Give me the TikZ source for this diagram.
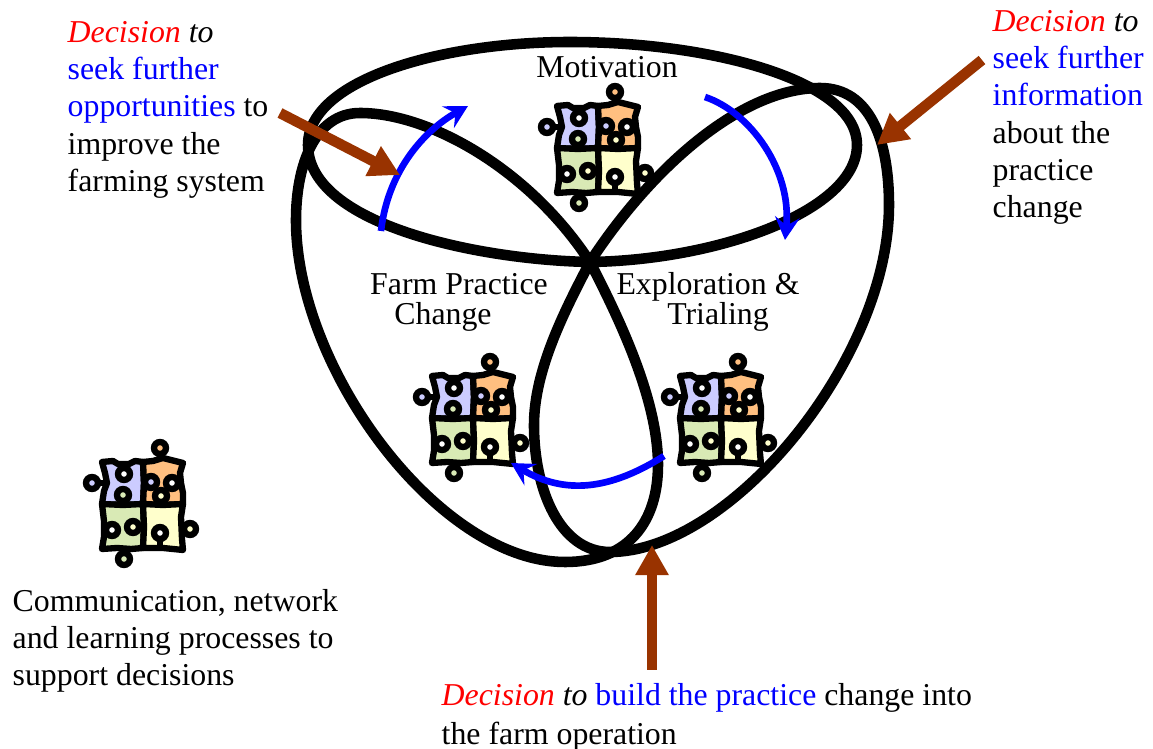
\documentclass[tikz,border=0pt]{standalone}
\usepackage{fontspec}
\setmainfont{Liberation Serif}
\usetikzlibrary{arrows.meta}
\definecolor{pz_b}{HTML}{CCCCFF}
\definecolor{pz_o}{HTML}{FFBF80}
\definecolor{pz_g}{HTML}{D9EAB5}
\definecolor{pz_y}{HTML}{FFFFCC}
\definecolor{brn}{HTML}{993300}

\begin{document}
\begin{tikzpicture}[x=0.01cm,y=-0.01cm]
\tikzset{
	t/.style={inner sep=0, align=left, font=\fontsize{9.05}{10.55}\selectfont},
	c/.style={t, align=center, anchor=base},
	petal/.style={line width=3pt, line join=round},
	arc_b/.style={blue, line width=1.9pt, >={Stealth[length=6.5pt,width=7pt,inset=2.4pt]}},
	arr_r/.style={brn, line width=3pt, -{Triangle[length=8.6pt,width=9pt]}},
	piece/.style={line width=1.8pt, line join=round},
	neck/.style={line width=1.8pt},
	puzzle/.pic={
		\filldraw[piece, fill=pz_b] (-41,-43) -- (-30,-44) -- (-25,-41) -- (-14,-41) -- (-8,-44) -- (0,-43) -- (1,-22) -- (0,-1) -- (-20,0) -- (-41,-1) -- (-39,-14) -- (-36,-22) -- (-38,-32) -- cycle;
		\filldraw[piece, fill=pz_o] (0,-43) -- (10,-44) -- (20,-47) -- (40,-42) -- (37,-32) -- (38,-22) -- (40,-12) -- (40,-1) -- (20,0) -- (0,-1) -- (1,-22) -- cycle;
		\filldraw[piece, fill=pz_g] (-41,-1) -- (-20,0) -- (0,-1) -- (1,22) -- (0,43) -- (-12,44) -- (-26,43) -- (-41,44) -- (-39,32) -- (-39,16) -- cycle;
		\filldraw[piece, fill=pz_y] (0,-1) -- (20,0) -- (40,-1) -- (38,12) -- (39,34) -- (40,45) -- (20,43) -- (0,43) -- (1,22) -- cycle;
		\foreach \kx/\ky/\ex/\ey/\kc in {
			17/-57/17/-44/pz_o, -51/-22/-38/-22/pz_b, -19/54/-19/43/pz_g, 47/24/38/24/pz_y,
			-19/-31/-19/-44/white, -20/-10/-20/0/pz_g, 8/-23/1/-23/pz_b, 29/-22/37/-22/white,
			18/-9/18/0/pz_y, -31/25/-38/25/white, -10/22/1/22/pz_y, 17/28/17/43/white}{
			\draw[neck] (\kx,\ky) -- (\ex,\ey);
			\filldraw[neck, fill=\kc] (\kx,\ky) circle (6);
		}
	}
}
\useasboundingbox (0,0) rectangle (1153,749);

% petals
\draw[petal] (590,262) .. controls (480,260) and (308,225) .. (308,145) .. controls (308,80) and (440,42) .. (570,42) .. controls (710,42) and (857,80) .. (857,145) .. controls (857,210) and (720,260) .. (590,262);
\draw[petal] (590,262) .. controls (530,170) and (430,113) .. (360,113) .. controls (315,113) and (296,165) .. (296,220) .. controls (296,370) and (440,562) .. (565,562) .. controls (630,562) and (658,520) .. (658,465) .. controls (658,400) and (620,320) .. (590,262);
\draw[petal] (590,262) .. controls (650,170) and (740,88) .. (820,88) .. controls (870,88) and (889,140) .. (889,205) .. controls (889,360) and (730,552) .. (610,552) .. controls (560,552) and (534,490) .. (534,425) .. controls (534,370) and (565,310) .. (590,262);

% puzzles
\pic (pz_m) at (598,149) {puzzle};
\pic (pz_f) at (473,419) {puzzle};
\pic (pz_e) at (721,419) {puzzle};
\pic (pz_l) at (143,505) {puzzle};

% blue arrows
\coordinate (b_1s) at (381,231);
\coordinate (b_1e) at (468,106);
\coordinate (b_2s) at (705,97);
\coordinate (b_2e) at (785,240);
\coordinate (b_3s) at (664,456);
\coordinate (b_3e) at (511,463);
\draw[arc_b,->] (b_1s) .. controls (388,170) and (425,130) .. (b_1e);
\draw[arc_b,->] (b_2s) .. controls (750,112) and (792,170) .. (b_2e);
\draw[arc_b,->] (b_3s) .. controls (610,490) and (565,495) .. (b_3e);

% brown arrows
\coordinate (r_1s) at (280,113);
\coordinate (r_1e) at (400,175);
\coordinate (r_2s) at (982,60);
\coordinate (r_2e) at (877,145);
\coordinate (r_3s) at (652,670);
\coordinate (r_3e) at (652,545);
\draw[arr_r] (r_1s) -- (r_1e);
\draw[arr_r] (r_2s) -- (r_2e);
\draw[arr_r] (r_3s) -- (r_3e);

% labels
\node[c] (l_m) at (607,78) {Motivation};
\node[c] (l_f1) at (459,295) {Farm Practice};
\node[c] (l_f2) at (443,325) {Change};
\node[c] (l_e1) at (708,295) {Exploration \&};
\node[c] (l_e2) at (718,325) {Trialing};
\node[t, anchor=north west] (l_1) at (67,21) {\textcolor{red}{\textit{Decision}} \textit{to}\\\textcolor{blue}{seek further}\\\textcolor{blue}{opportunities} to\\improve the\\farming system};
\node[t, anchor=north west] (l_2) at (992,10) {\textcolor{red}{\textit{Decision}} \textit{to}\\\textcolor{blue}{seek further}\\\textcolor{blue}{information}\\about the\\practice\\change};
\node[t, anchor=north west] (l_3) at (441,683) {\textcolor{red}{\textit{Decision}} \textit{to} \textcolor{blue}{build the practice} change into\\[0.4pt]the farm operation};
\node[t, anchor=north west] (l_4) at (12,589) {Communication, network\\and learning processes to\\support decisions};

\end{tikzpicture}
\end{document}
